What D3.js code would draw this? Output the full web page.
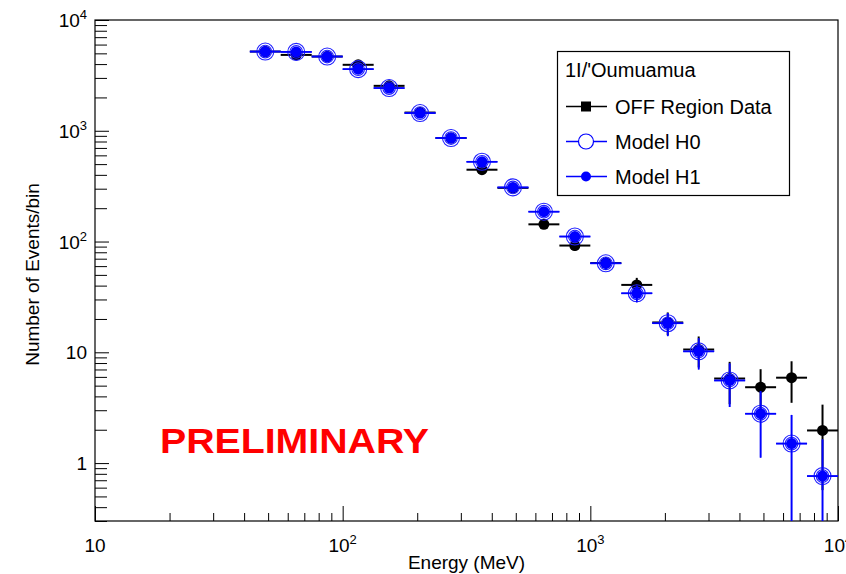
<!DOCTYPE html>
<html>
<head>
<meta charset="utf-8">
<script src="https://cdn.jsdelivr.net/npm/d3@7"></script>
<style>
  body { margin: 0; background: #fff; }
  text { font-family: "Liberation Sans", Arial, sans-serif; }
</style>
</head>
<body>
<div id="chart"></div>
<script>
// bin edges in MeV (8 log bins per decade)
var binEdges = [42.2, 56.2, 75.0, 100, 133.4, 177.8, 237.1, 316.2, 421.7, 562.3,
                749.9, 1000, 1333.5, 1778.3, 2371.4, 3162.3, 4217.0, 5623.4, 7498.9, 10000];

// OFF region counts and errors
var dataCounts = [5190, 4840, 4680, 3940, 2545, 1460, 860, 445, 305, 143,
                  92, 64, 40.6, 18.6, 10.6, 5.8, 4.84, 5.9, 1.97];
var dataErrors = [72, 69.6, 68.4, 62.8, 50.4, 38.2, 29.3, 21.1, 17.5, 12,
                  9.6, 8, 6.4, 4.3, 3.3, 2.4, 2.2, 2.4, 1.4];

// model predictions
var modelH0 = [5190, 5150, 4680, 3600, 2430, 1445, 860, 525, 308, 186,
               111, 63.6, 34.1, 18.3, 10.2, 5.57, 2.79, 1.50, 0.763];
var modelH1 = [5190, 5150, 4680, 3600, 2430, 1445, 860, 525, 308, 186,
               111, 63.6, 34.1, 18.3, 10.2, 5.57, 2.79, 1.50, 0.763];
var modelErrors = [72, 71.8, 68.4, 60, 49.3, 38, 29.3, 22.9, 17.5, 13.6,
                   10.5, 8, 5.8, 4.3, 3.2, 2.36, 1.67, 1.22, 0.87];

var xMajor = [10, 100, 1000, 10000];
var xLabels = [["10", ""], ["10", "2"], ["10", "3"], ["10", "4"]];
var yMajor = [1, 10, 100, 1000, 10000];
var yLabels = [["1", ""], ["10", ""], ["10", "2"], ["10", "3"], ["10", "4"]];

var width = 846, height = 574;
var plotL = 95, plotR = 838, plotT = 20, plotB = 521;

var svg = d3.select("#chart").append("svg")
    .attr("width", width)
    .attr("height", height);

svg.append("rect").attr("width", width).attr("height", height).attr("fill", "#fff");

var x = d3.scaleLog().domain([10, 10000]).range([plotL, plotR]);
var y = d3.scaleLog().domain([0.3, 10000]).range([plotB, plotT]);

// minor ticks 2..9 per decade
var xMinor = [];
xMajor.slice(0, 3).forEach(function(d) {
    for (var k = 2; k <= 9; k++) xMinor.push(d * k);
});
var yMinor = [0.3, 0.4, 0.5, 0.6, 0.7, 0.8, 0.9];
yMajor.slice(0, 4).forEach(function(d) {
    for (var k = 2; k <= 9; k++) yMinor.push(d * k);
});

function drawAxis(axis, transform) {
    var g = svg.append("g").attr("transform", transform).call(axis);
    g.select(".domain").remove();
    g.selectAll("text").remove();
    g.selectAll("line").attr("stroke", "#000").attr("stroke-width", 1);
    return g;
}

drawAxis(d3.axisBottom(x).tickValues(xMajor).tickSize(-15).tickFormat(""), "translate(0," + plotB + ")");
drawAxis(d3.axisBottom(x).tickValues(xMinor).tickSize(-8).tickFormat(""), "translate(0," + plotB + ")");
drawAxis(d3.axisLeft(y).tickValues(yMajor).tickSize(-14).tickFormat(""), "translate(" + plotL + ",0)");
drawAxis(d3.axisLeft(y).tickValues(yMinor).tickSize(-12).tickFormat(""), "translate(" + plotL + ",0)");

// frame
svg.append("rect")
    .attr("x", plotL).attr("y", plotT)
    .attr("width", plotR - plotL).attr("height", plotB - plotT)
    .attr("fill", "none").attr("stroke", "#000").attr("stroke-width", 1.2);

// tick labels with superscripts
xMajor.forEach(function(d, i) {
    var t = svg.append("text")
        .attr("x", x(d)).attr("y", 552)
        .attr("text-anchor", "middle")
        .attr("font-size", 19)
        .text(xLabels[i][0]);
    if (xLabels[i][1]) t.append("tspan").attr("dy", -8).attr("font-size", 13).text(xLabels[i][1]);
});
yMajor.forEach(function(d, i) {
    var t = svg.append("text")
        .attr("x", 87).attr("y", y(d) + 7)
        .attr("text-anchor", "end")
        .attr("font-size", 19)
        .text(yLabels[i][0]);
    if (yLabels[i][1]) t.append("tspan").attr("dy", -8).attr("font-size", 13).text(yLabels[i][1]);
});

svg.append("text")
    .attr("x", (plotL + plotR) / 2).attr("y", 569)
    .attr("text-anchor", "middle")
    .attr("font-size", 19)
    .text("Energy (MeV)");

svg.append("text")
    .attr("transform", "translate(39," + ((plotT + plotB) / 2 + 4) + ") rotate(-90)")
    .attr("text-anchor", "middle")
    .attr("font-size", 19)
    .text("Number of Events/bin");

// bins
var bins = dataCounts.map(function(d, i) {
    return {
        lo: binEdges[i], hi: binEdges[i + 1],
        c: Math.sqrt(binEdges[i] * binEdges[i + 1]),
        data: d, dataErr: dataErrors[i],
        h0: modelH0[i], h1: modelH1[i], mErr: modelErrors[i]
    };
});

function yClamp(v) {
    return v <= 0.3 ? plotB : Math.max(plotT, y(v));
}

function drawErrors(key, errKey, color, sw) {
    var g = svg.append("g").attr("stroke", color).attr("stroke-width", sw);
    g.selectAll("line.h").data(bins).enter().append("line")
        .attr("x1", d => x(d.lo)).attr("x2", d => x(d.hi))
        .attr("y1", d => y(d[key])).attr("y2", d => y(d[key]));
    g.selectAll("line.v").data(bins).enter().append("line")
        .attr("x1", d => x(d.c)).attr("x2", d => x(d.c))
        .attr("y1", d => yClamp(d[key] + d[errKey]))
        .attr("y2", d => yClamp(d[key] - d[errKey]));
}

// OFF data
drawErrors("data", "dataErr", "#000", 2);
svg.append("g").selectAll("circle").data(bins).enter().append("circle")
    .attr("cx", d => x(d.c)).attr("cy", d => y(d.data))
    .attr("r", 5.5).attr("fill", "#000");

// model H0: open circles
drawErrors("h0", "mErr", "#1a1aff", 1.6);
var h0 = svg.append("g").attr("fill", "none").attr("stroke", "#2020ff");
h0.selectAll("circle.o").data(bins).enter().append("circle")
    .attr("cx", d => x(d.c)).attr("cy", d => y(d.h0))
    .attr("r", 8.5).attr("stroke-width", 1.1);
h0.selectAll("circle.i").data(bins).enter().append("circle")
    .attr("cx", d => x(d.c)).attr("cy", d => y(d.h0))
    .attr("r", 6.3).attr("stroke-width", 1.1);

// model H1: filled circles
drawErrors("h1", "mErr", "#0000ff", 1.6);
svg.append("g").selectAll("circle").data(bins).enter().append("circle")
    .attr("cx", d => x(d.c)).attr("cy", d => y(d.h1))
    .attr("r", 5.5).attr("fill", "#0000ff");

// legend
var leg = svg.append("g");
leg.append("rect")
    .attr("x", 557.5).attr("y", 51.5)
    .attr("width", 232).attr("height", 144)
    .attr("fill", "#fff").attr("stroke", "#000").attr("stroke-width", 1.2);
leg.append("text").attr("x", 565).attr("y", 77).attr("font-size", 20).text("1I/'Oumuamua");

var legItems = [
    {label: "OFF Region Data", color: "#000", marker: "square", y: 106.5},
    {label: "Model H0", color: "#0000ff", marker: "open", y: 141.5},
    {label: "Model H1", color: "#0000ff", marker: "full", y: 176.5}
];
legItems.forEach(function(it) {
    leg.append("line")
        .attr("x1", 566).attr("x2", 607)
        .attr("y1", it.y).attr("y2", it.y)
        .attr("stroke", it.color).attr("stroke-width", 1.5);
    if (it.marker == "square") {
        leg.append("rect").attr("x", 581).attr("y", it.y - 5)
            .attr("width", 10).attr("height", 10).attr("fill", "#000");
    } else if (it.marker == "open") {
        leg.append("circle").attr("cx", 586).attr("cy", it.y).attr("r", 7.5)
            .attr("fill", "#fff").attr("stroke", it.color).attr("stroke-width", 1.2);
    } else {
        leg.append("circle").attr("cx", 586).attr("cy", it.y).attr("r", 5)
            .attr("fill", it.color);
    }
    leg.append("text").attr("x", 615).attr("y", it.y + 7)
        .attr("font-size", 20).text(it.label);
});

svg.append("text")
    .attr("x", 160).attr("y", 453)
    .attr("font-family", "Lato, 'Open Sans', sans-serif")
    .attr("font-weight", "bold")
    .attr("font-size", 35)
    .attr("fill", "#ff0000")
    .attr("textLength", 269)
    .attr("lengthAdjust", "spacingAndGlyphs")
    .text("PRELIMINARY");
</script>
</body>
</html>
